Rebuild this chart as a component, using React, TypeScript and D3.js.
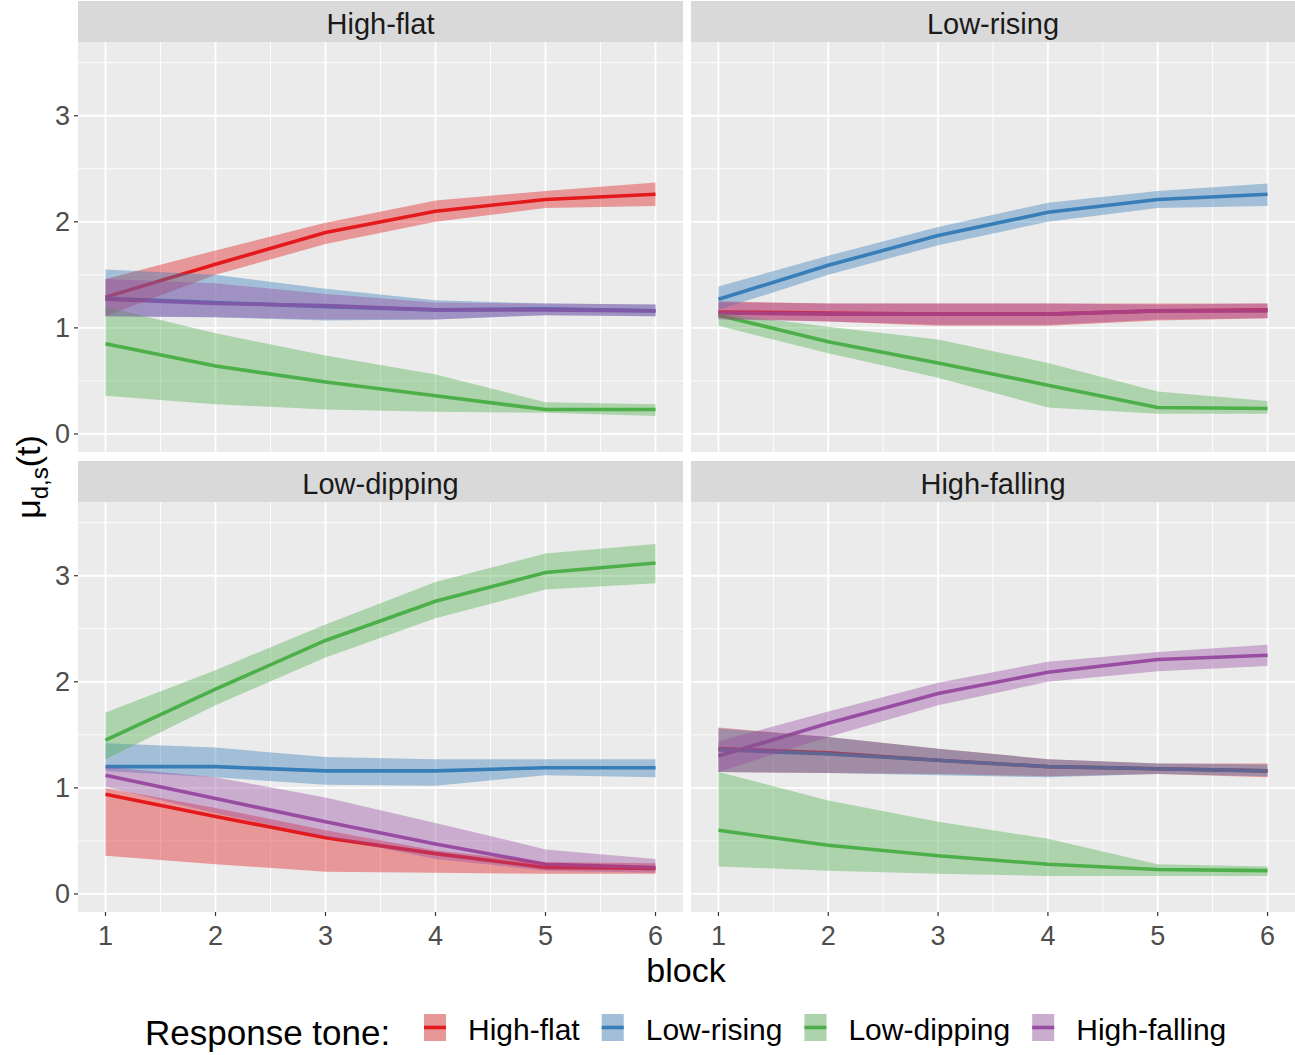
import { useEffect, useRef } from "react";
import * as d3 from "d3";

const blocks = [1, 2, 3, 4, 5, 6];
const tones = ["High-flat", "Low-rising", "Low-dipping", "High-falling"];
const toneColors = ["#E41A1C", "#377EB8", "#4DAF4A", "#984EA3"];
const xTicks = [1, 2, 3, 4, 5, 6];
const yTicks = [0, 1, 2, 3];

// stimulus "High-flat": rows follow tones order
const highFlatMu = [
  [1.29, 1.6, 1.9, 2.1, 2.21, 2.26],
  [1.28, 1.24, 1.2, 1.17, 1.18, 1.16],
  [0.85, 0.64, 0.49, 0.36, 0.23, 0.23],
  [1.27, 1.23, 1.21, 1.17, 1.17, 1.16],
];
const highFlatLo = [
  [1.11, 1.5, 1.79, 2.0, 2.13, 2.15],
  [1.11, 1.1, 1.07, 1.08, 1.12, 1.11],
  [0.36, 0.28, 0.23, 0.21, 0.2, 0.17],
  [1.11, 1.1, 1.08, 1.08, 1.12, 1.11],
];
const highFlatHi = [
  [1.46, 1.73, 1.99, 2.2, 2.29, 2.37],
  [1.55, 1.5, 1.37, 1.26, 1.23, 1.22],
  [1.2, 0.95, 0.74, 0.56, 0.3, 0.28],
  [1.46, 1.42, 1.32, 1.24, 1.23, 1.22],
];

// stimulus "Low-rising"
const lowRisingMu = [
  [1.15, 1.14, 1.13, 1.13, 1.16, 1.17],
  [1.27, 1.59, 1.87, 2.09, 2.21, 2.26],
  [1.12, 0.87, 0.67, 0.46, 0.25, 0.24],
  [1.14, 1.13, 1.13, 1.13, 1.16, 1.16],
];
const lowRisingLo = [
  [1.09, 1.06, 1.02, 1.02, 1.07, 1.09],
  [1.17, 1.5, 1.78, 2.0, 2.13, 2.15],
  [1.02, 0.76, 0.53, 0.25, 0.19, 0.19],
  [1.08, 1.06, 1.03, 1.03, 1.08, 1.09],
];
const lowRisingHi = [
  [1.25, 1.23, 1.23, 1.23, 1.23, 1.23],
  [1.39, 1.68, 1.95, 2.18, 2.29, 2.36],
  [1.14, 1.01, 0.89, 0.67, 0.4, 0.31],
  [1.24, 1.23, 1.23, 1.23, 1.22, 1.23],
];

// stimulus "Low-dipping"
const lowDippingMu = [
  [0.94, 0.73, 0.53, 0.38, 0.25, 0.24],
  [1.2, 1.2, 1.16, 1.16, 1.19, 1.19],
  [1.45, 1.93, 2.39, 2.76, 3.03, 3.12],
  [1.12, 0.9, 0.68, 0.47, 0.28, 0.25],
];
const lowDippingLo = [
  [0.36, 0.28, 0.21, 0.2, 0.19, 0.19],
  [1.16, 1.1, 1.03, 1.02, 1.12, 1.1],
  [1.27, 1.78, 2.23, 2.6, 2.87, 2.93],
  [1.01, 0.76, 0.54, 0.33, 0.22, 0.2],
];
const lowDippingHi = [
  [1.0, 0.81, 0.6, 0.41, 0.3, 0.29],
  [1.42, 1.38, 1.29, 1.27, 1.27, 1.27],
  [1.71, 2.11, 2.54, 2.94, 3.21, 3.3],
  [1.2, 1.1, 0.91, 0.67, 0.42, 0.33],
];

// stimulus "High-falling"
const highFallingMu = [
  [1.37, 1.33, 1.26, 1.2, 1.18, 1.16],
  [1.36, 1.32, 1.26, 1.2, 1.18, 1.16],
  [0.6, 0.46, 0.36, 0.28, 0.23, 0.22],
  [1.3, 1.61, 1.89, 2.09, 2.21, 2.25],
];
const highFallingLo = [
  [1.15, 1.14, 1.13, 1.11, 1.13, 1.1],
  [1.15, 1.14, 1.12, 1.1, 1.13, 1.11],
  [0.26, 0.22, 0.19, 0.17, 0.17, 0.17],
  [1.15, 1.48, 1.78, 2.0, 2.1, 2.15],
];
const highFallingHi = [
  [1.57, 1.48, 1.37, 1.27, 1.23, 1.23],
  [1.56, 1.48, 1.37, 1.27, 1.23, 1.22],
  [1.15, 0.88, 0.68, 0.52, 0.28, 0.26],
  [1.44, 1.72, 1.99, 2.19, 2.28, 2.35],
];

const FONT = "'Liberation Sans', Arial, sans-serif";

export default function App() {
  const svgRef = useRef<SVGSVGElement>(null);

  useEffect(() => {
    const svg = d3.select(svgRef.current);
    svg.selectAll("*").remove();

    const panels = [
      { title: "High-flat", mu: highFlatMu, lo: highFlatLo, hi: highFlatHi, col: 0, row: 0 },
      { title: "Low-rising", mu: lowRisingMu, lo: lowRisingLo, hi: lowRisingHi, col: 1, row: 0 },
      { title: "Low-dipping", mu: lowDippingMu, lo: lowDippingLo, hi: lowDippingHi, col: 0, row: 1 },
      { title: "High-falling", mu: highFallingMu, lo: highFallingLo, hi: highFallingHi, col: 1, row: 1 },
    ];

    const colX = [[78, 683], [691, 1295]];
    const rowY = [[42, 452], [502, 912]];
    const stripH = 41;

    panels.forEach((p, pi) => {
      const [x0, x1] = colX[p.col];
      const [y0, y1] = rowY[p.row];
      const x = d3.scaleLinear().domain([0.75, 6.25]).range([x0, x1]);
      const y = d3.scaleLinear().domain([-0.17, 3.695]).range([y1, y0]);

      const g = svg.append("g");

      // strip
      g.append("rect")
        .attr("x", x0).attr("y", y0 - stripH)
        .attr("width", x1 - x0).attr("height", stripH)
        .attr("fill", "#D9D9D9");
      g.append("text")
        .attr("x", (x0 + x1) / 2).attr("y", y0 - stripH / 2 + 2)
        .attr("text-anchor", "middle").attr("dominant-baseline", "central")
        .attr("font-size", 29).attr("fill", "#1A1A1A")
        .text(p.title);

      // panel bg
      g.append("rect")
        .attr("x", x0).attr("y", y0)
        .attr("width", x1 - x0).attr("height", y1 - y0)
        .attr("fill", "#EBEBEB");

      const minorX = d3.range(1.5, 6, 1);
      const minorY = d3.range(0.5, 4, 1).filter((v) => v < 3.695);
      g.selectAll(".mx").data(minorX).join("line")
        .attr("x1", (d) => x(d)).attr("x2", (d) => x(d))
        .attr("y1", y0).attr("y2", y1)
        .attr("stroke", "#fff").attr("stroke-width", 0.9);
      g.selectAll(".my").data(minorY).join("line")
        .attr("x1", x0).attr("x2", x1)
        .attr("y1", (d) => y(d)).attr("y2", (d) => y(d))
        .attr("stroke", "#fff").attr("stroke-width", 0.9);
      g.selectAll(".gx").data(xTicks).join("line")
        .attr("x1", (d) => x(d)).attr("x2", (d) => x(d))
        .attr("y1", y0).attr("y2", y1)
        .attr("stroke", "#fff").attr("stroke-width", 1.8);
      g.selectAll(".gy").data(yTicks).join("line")
        .attr("x1", x0).attr("x2", x1)
        .attr("y1", (d) => y(d)).attr("y2", (d) => y(d))
        .attr("stroke", "#fff").attr("stroke-width", 1.8);

      const clipId = "clip" + pi;
      svg.append("clipPath").attr("id", clipId)
        .append("rect").attr("x", x0).attr("y", y0)
        .attr("width", x1 - x0).attr("height", y1 - y0);

      const marks = g.append("g").attr("clip-path", `url(#${clipId})`);

      const line = d3.line<number>()
        .x((_, i) => x(blocks[i]))
        .y((d) => y(d));

      // lines first, then ribbons on top (as in the original)
      tones.forEach((_, ti) => {
        marks.append("path")
          .attr("d", line(p.mu[ti]))
          .attr("fill", "none")
          .attr("stroke", toneColors[ti])
          .attr("stroke-width", 3.6);
      });
      tones.forEach((_, ti) => {
        const area = d3.area<number>()
          .x((_, i) => x(blocks[i]))
          .y0((_, i) => y(p.lo[ti][i]))
          .y1((d) => y(d));
        marks.append("path")
          .attr("d", area(p.hi[ti]))
          .attr("fill", toneColors[ti])
          .attr("fill-opacity", 0.4);
      });

      // axes
      if (p.col === 0) {
        g.selectAll(".ty").data(yTicks).join("line")
          .attr("x1", x0 - 4).attr("x2", x0)
          .attr("y1", (d) => y(d)).attr("y2", (d) => y(d))
          .attr("stroke", "#333").attr("stroke-width", 1.2);
        g.selectAll(".ly").data(yTicks).join("text")
          .attr("x", x0 - 8).attr("y", (d) => y(d))
          .attr("text-anchor", "end").attr("dominant-baseline", "central")
          .attr("font-size", 27).attr("fill", "#4D4D4D")
          .text((d) => d);
      }
      if (p.row === 1) {
        g.selectAll(".tx").data(xTicks).join("line")
          .attr("x1", (d) => x(d)).attr("x2", (d) => x(d))
          .attr("y1", y1).attr("y2", y1 + 4)
          .attr("stroke", "#333").attr("stroke-width", 1.2);
        g.selectAll(".lx").data(xTicks).join("text")
          .attr("x", (d) => x(d)).attr("y", y1 + 33)
          .attr("text-anchor", "middle")
          .attr("font-size", 27).attr("fill", "#4D4D4D")
          .text((d) => d);
      }
    });

    // axis titles
    svg.append("text")
      .attr("x", 686).attr("y", 982)
      .attr("text-anchor", "middle")
      .attr("font-size", 34).attr("fill", "#000")
      .text("block");

    const yt = svg.append("text")
      .attr("transform", "translate(40,477) rotate(-90)")
      .attr("text-anchor", "middle")
      .attr("font-size", 34).attr("fill", "#000");
    yt.append("tspan").text("μ");
    yt.append("tspan").attr("dy", 8).attr("font-size", 24).text("d,s");
    yt.append("tspan").attr("dy", -8).text("(t)");

    // legend
    const leg = svg.append("g");
    leg.append("text")
      .attr("x", 145).attr("y", 1045)
      .attr("font-size", 35).attr("fill", "#000")
      .text("Response tone:");
    let lx = 424;
    tones.forEach((t, ti) => {
      leg.append("rect")
        .attr("x", lx).attr("y", 1014).attr("width", 22).attr("height", 27)
        .attr("fill", "#EBEBEB");
      leg.append("rect")
        .attr("x", lx).attr("y", 1014).attr("width", 22).attr("height", 27)
        .attr("fill", toneColors[ti]).attr("fill-opacity", 0.4);
      leg.append("line")
        .attr("x1", lx).attr("x2", lx + 22)
        .attr("y1", 1027.5).attr("y2", 1027.5)
        .attr("stroke", toneColors[ti]).attr("stroke-width", 3.6);
      const txt = leg.append("text")
        .attr("x", lx + 44).attr("y", 1040)
        .attr("font-size", 30).attr("fill", "#000")
        .text(t);
      const w = (txt.node() as SVGTextElement).getComputedTextLength();
      lx = lx + 44 + w + 22;
    });
  }, []);

  return (
    <svg
      ref={svgRef}
      width={1295}
      height={1055}
      style={{ position: "absolute", left: 0, top: 0, background: "#fff", fontFamily: FONT }}
    />
  );
}
